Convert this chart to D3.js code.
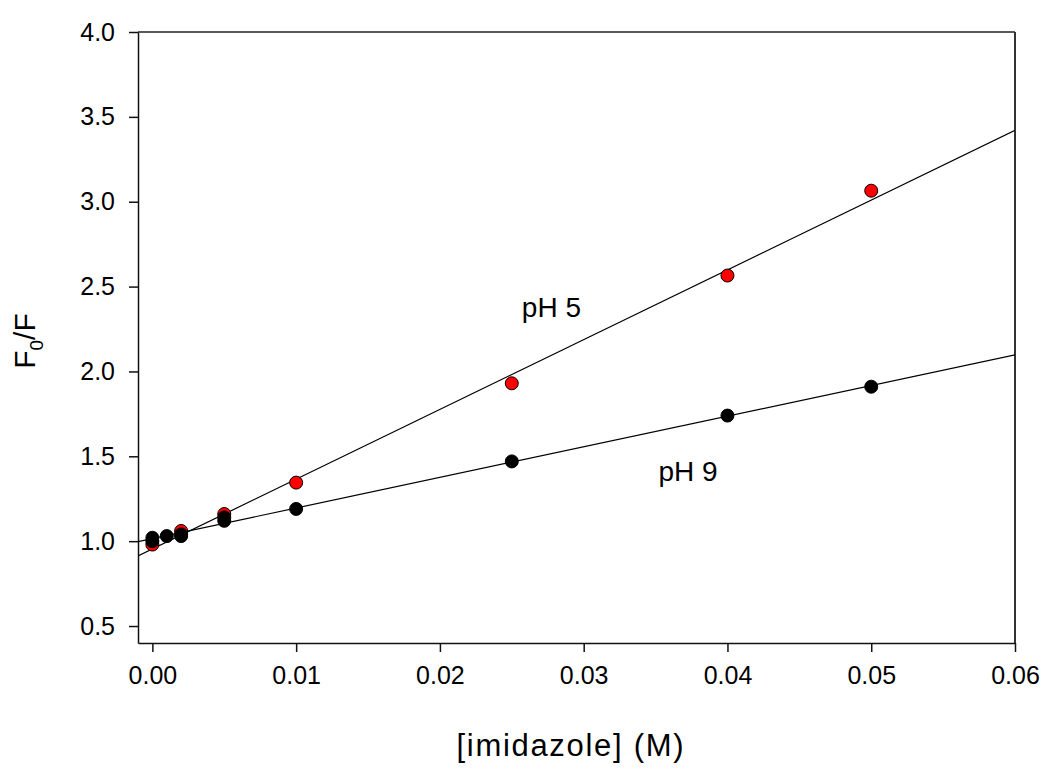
<!DOCTYPE html>
<html>
<head>
<meta charset="utf-8">
<script src="https://cdn.jsdelivr.net/npm/d3@7"></script>
<style>
  body { margin: 0; background: #fff; }
  svg { display: block; }
  text { font-family: "Liberation Sans", Arial, sans-serif; fill: #000; }
</style>
</head>
<body>
<svg id="chart" width="1050" height="769"></svg>
<script>
// ---- data ----
const xTicks = [0.00, 0.01, 0.02, 0.03, 0.04, 0.05, 0.06];
const yTicks = [0.5, 1.0, 1.5, 2.0, 2.5, 3.0, 3.5, 4.0];
const ph5X = [0, 0.002, 0.005, 0.01, 0.025, 0.04, 0.05];
const ph5Y = [0.98, 1.06, 1.16, 1.345, 1.93, 2.565, 3.065];
const ph9X = [0, 0, 0.001, 0.002, 0.002, 0.005, 0.005, 0.01, 0.025, 0.04, 0.05];
const ph9Y = [1.00, 1.02, 1.03, 1.03, 1.04, 1.12, 1.14, 1.19, 1.47, 1.74, 1.91];
const seriesLabels = ["pH 5", "pH 9"];
const labelPos = [[0.0257, 2.32], [0.0352, 1.355]];

// ---- layout ----
const svg = d3.select("#chart");
const L = 138, T = 32, R = 1015, B = 643;
const x = d3.scaleLinear().domain([-0.001, 0.06]).range([L, R]);
const y = d3.scaleLinear().domain([0.4, 4.0]).range([B, T]);

function fit(xs, ys) {
  const n = xs.length, mx = d3.mean(xs), my = d3.mean(ys);
  let sxx = 0, sxy = 0;
  for (let i = 0; i < n; i++) { sxx += (xs[i]-mx)**2; sxy += (xs[i]-mx)*(ys[i]-my); }
  const b = sxy / sxx; return [my - b*mx, b];
}

// frame (top/right)
svg.append("line").attr("x1", L).attr("x2", R).attr("y1", T).attr("y2", T).attr("stroke", "#222").attr("stroke-width", 1.5);
svg.append("line").attr("x1", R).attr("x2", R).attr("y1", T).attr("y2", B).attr("stroke", "#333").attr("stroke-width", 2);

// axes
const xAxis = svg.append("g").attr("transform", `translate(0,${B})`)
  .call(d3.axisBottom(x).tickValues(xTicks).tickFormat(d3.format(".2f")).tickSize(9).tickPadding(14).tickSizeOuter(0));
const yAxis = svg.append("g").attr("transform", `translate(${L},0)`)
  .call(d3.axisLeft(y).tickValues(yTicks).tickFormat(d3.format(".1f")).tickSize(9).tickPadding(14).tickSizeOuter(0));
[xAxis, yAxis].forEach(g => {
  g.selectAll("path").attr("stroke", "#111").attr("stroke-width", 1.5);
  g.selectAll("line").attr("stroke", "#111").attr("stroke-width", 1.5);
  g.selectAll("text").style("font-size", "25px").attr("fill", "#000");
});

// regression lines
const clip = svg.append("clipPath").attr("id", "clip").append("rect")
  .attr("x", L).attr("y", T).attr("width", R - L).attr("height", B - T);
[[ph5X, ph5Y], [ph9X, ph9Y]].forEach(([xs, ys]) => {
  const [a, b] = fit(xs, ys);
  const x0 = x.domain()[0], x1 = x.domain()[1];
  svg.append("line").attr("clip-path", "url(#clip)")
    .attr("x1", x(x0)).attr("y1", y(a + b*x0))
    .attr("x2", x(x1)).attr("y2", y(a + b*x1))
    .attr("stroke", "#000").attr("stroke-width", 1.2);
});

// points (pH 5 red first, pH 9 black on top)
svg.append("g").selectAll("circle").data(ph5X.map((v, i) => [v, ph5Y[i]])).join("circle")
  .attr("cx", d => x(d[0])).attr("cy", d => y(d[1])).attr("r", 6.5)
  .attr("fill", "#ff0000").attr("stroke", "#000").attr("stroke-width", 1);
svg.append("g").selectAll("circle").data(ph9X.map((v, i) => [v, ph9Y[i]])).join("circle")
  .attr("cx", d => x(d[0])).attr("cy", d => y(d[1])).attr("r", 6.5)
  .attr("fill", "#000").attr("stroke", "#000").attr("stroke-width", 1);

// series labels
seriesLabels.forEach((s, i) => {
  svg.append("text").attr("x", x(labelPos[i][0])).attr("y", y(labelPos[i][1]))
    .style("font-size", "28px").text(s);
});

// axis titles
svg.append("text").attr("x", 570).attr("y", 756).attr("text-anchor", "middle")
  .style("font-size", "31px").attr("textLength", 227).attr("lengthAdjust", "spacing")
  .text("[imidazole] (M)");
const yt = svg.append("text").attr("transform", "translate(35,341) rotate(-90)")
  .attr("text-anchor", "middle").style("font-size", "30px");
yt.append("tspan").text("F");
yt.append("tspan").attr("dy", 8).style("font-size", "19px").text("0");
yt.append("tspan").attr("dy", -8).text("/F");
</script>
</body>
</html>
